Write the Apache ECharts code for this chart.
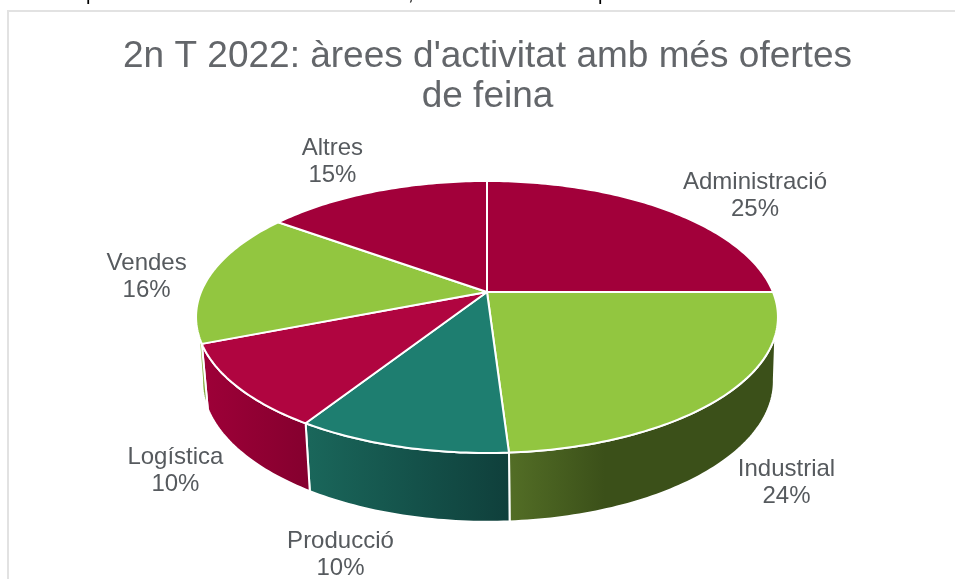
<!DOCTYPE html>
<html><head><meta charset="utf-8">
<style>html,body{margin:0;padding:0;background:#fff}#c{width:955px;height:579px}</style>
<script src="https://cdn.jsdelivr.net/npm/echarts@6/dist/echarts.min.js"></script>
</head><body><div id="c"></div>
<script>
const titleText = "2n T 2022: àrees d'activitat amb més ofertes\nde feina";
const categories = ["Administració","Industrial","Producció","Logística","Vendes","Altres"];
const shares = [25,24,10,10,16,15];

const topColors = ["#A2003A","#92C640","#1E7E70","#B00540","#92C640","#A2003A"];
const wallColors = [null,["#536E26","#3B5019",0.36],["#1A675B","#0F3F3B",1],["#9E0038","#84002E",1],["#9CCB48","#6E8F30",1],null];
const labelOffsets = [[89,-14],[61,88],[-60,108],[-62,84],[-63,1],[-43,-30]];

// projection of the tilted disc: apex, half-axes, perspective factor
const apex = [487,292], topAxes = [286,131.4], floor = [488,355.2], floorAxes = [281,136], persp = 0.1837;
// visible range of the outer wall on the upper and lower rim
const rimLimits = [108,252], floorLimits = [100,260];
const project = (deg, c, ax) => {
  const t = deg * Math.PI / 180, u = Math.sin(t), v = -Math.cos(t), w = 1 - persp * v;
  return [c[0] + ax[0] * u / w, c[1] + ax[1] * v / w];
};
const total = shares.reduce((a,b)=>a+b,0);
const startAngle = i => shares.slice(0,i).reduce((a,b)=>a+b,0) / total * 360;
const endAngle = i => startAngle(i) + shares[i] / total * 360;
const arc = (a,b,c,ax) => { const p=[], n=Math.max(2,Math.ceil(Math.abs(b-a))); for(let k=0;k<=n;k++) p.push(project(a+(b-a)*k/n,c,ax)); return p; };
const rows = shares.map((v,i)=>[i,v]);

const chart = echarts.init(document.getElementById('c'),null,{renderer:'canvas'});
chart.setOption({
  animation:false,
  backgroundColor:'#fff',
  title:{text:titleText,left:482.5,top:32,textAlign:'center',
    textStyle:{fontFamily:'Liberation Sans',fontSize:37,fontWeight:'normal',color:'#63666A',lineHeight:40}},
  graphic:[
    {type:'rect',shape:{x:7,y:10,width:948,height:2},style:{fill:'#E2E2E2'},silent:true},
    {type:'rect',shape:{x:7,y:10,width:2,height:569},style:{fill:'#E2E2E2'},silent:true},
    {type:'text',left:86,top:-16,style:{text:'p',fontFamily:'Liberation Sans',fontSize:20,fill:'#000'}},
    {type:'text',left:408,top:-16,style:{text:',',fontFamily:'Liberation Sans',fontSize:20,fill:'#000'}},
    {type:'text',left:598,top:-16,style:{text:'p',fontFamily:'Liberation Sans',fontSize:20,fill:'#000'}}
  ],
  series:[
    {type:'custom',coordinateSystem:'none',data:rows,z:1,silent:true,
      renderItem(params,api){
        const i=api.value(0), wc=wallColors[i];
        const s=startAngle(i), e=endAngle(i);
        if(!wc) return {type:'group',children:[]};
        const pts=arc(Math.max(s,rimLimits[0]),Math.min(e,rimLimits[1]),apex,topAxes)
          .concat(arc(Math.min(e,floorLimits[1]),Math.max(s,floorLimits[0]),floor,floorAxes));
        return {type:'polygon',shape:{points:pts},style:{
          fill:new echarts.graphic.LinearGradient(0,0,1,0,[{offset:0,color:wc[0]},{offset:wc[2],color:wc[1]},{offset:1,color:wc[1]}]),
          stroke:'#fff',lineWidth:2,lineJoin:'round'}};
      }},
    {type:'custom',coordinateSystem:'none',data:rows,z:2,silent:true,
      renderItem(params,api){
        const i=api.value(0);
        const pts=[apex].concat(arc(startAngle(i),endAngle(i),apex,topAxes));
        return {type:'polygon',shape:{points:pts},style:{fill:topColors[i],stroke:'#fff',lineWidth:2,lineJoin:'round'}};
      }},
    {type:'custom',coordinateSystem:'none',data:rows,z:3,silent:true,
      renderItem(params,api){
        const i=api.value(0), m=project((startAngle(i)+endAngle(i))/2,apex,topAxes), o=labelOffsets[i];
        return {type:'text',x:m[0]+o[0],y:m[1]+o[1],style:{
          text:categories[i]+'\n'+api.value(1)+'%',fontFamily:'Liberation Sans',fontSize:24,lineHeight:27,
          fill:'#565A5E',align:'center',verticalAlign:'middle'}};
      }}
  ]
});
</script></body></html>
